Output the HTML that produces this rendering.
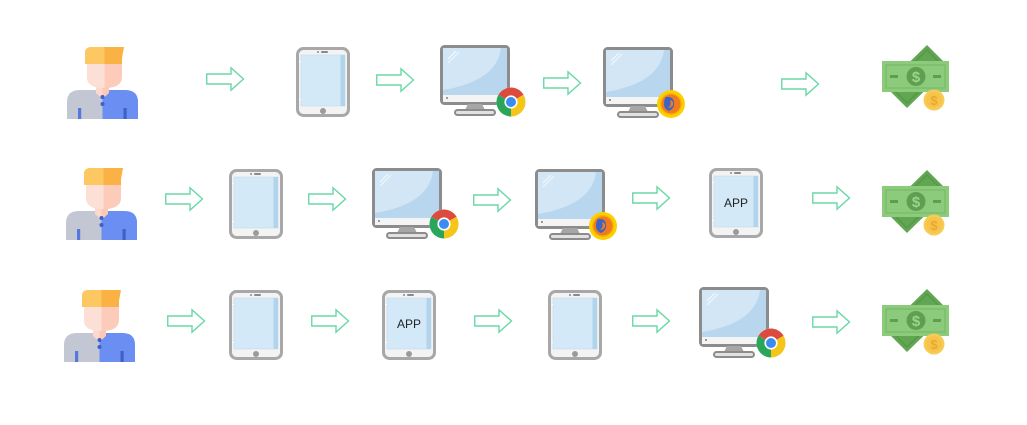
<!DOCTYPE html>
<html><head><meta charset="utf-8"><style>
html,body{margin:0;padding:0;background:#fff;}
svg{display:block;}
</style></head><body>
<svg width="1027" height="425" viewBox="0 0 1027 425" xmlns="http://www.w3.org/2000/svg">
<defs>
  <g id="arrow">
    <polygon points="0.75,7 25,7 25,0.8 37.5,12 25,23.2 25,17 0.75,17" fill="#fff" stroke="#6ad8a6" stroke-width="1.4" stroke-linejoin="miter"/>
  </g>
  <g id="person">
    <path d="M0,72 L0,55 Q0,43 13,43 L58,43 Q71,43 71,55 L71,72 Z" fill="#c3c6d3"/>
    <path d="M35.5,43 L58,43 Q71,43 71,55 L71,72 L35.5,72 Z" fill="#6a8ef1"/>
    <path d="M29,36 L42,36 L42,46 L35.5,52 L29,46 Z" fill="#fbc9b6"/>
    <path d="M29,36 L35.5,36 L35.5,52 L29,46 Z" fill="#fcd9cc"/>
    <path d="M20,12 L55,12 L55,30 Q55,41 37.5,41 Q20,41 20,30 Z" fill="#fccbb9"/>
    <path d="M20,12 L37.5,12 L37.5,41 Q20,41 20,30 Z" fill="#fde0d5"/>
    <path d="M18,17 L18,6 Q18,0 25,0 L57,0 L55,11 L55,17 Z" fill="#fbb244"/>
    <path d="M18,17 L18,6 Q18,0 25,0 L37.5,0 L37.5,17 Z" fill="#fdc762"/>
    <circle cx="35.5" cy="50" r="2" fill="#3f60c8"/>
    <circle cx="35.5" cy="57" r="2" fill="#3f60c8"/>
    <rect x="11" y="61" width="3.2" height="11" fill="#5478de"/>
    <rect x="56.5" y="61" width="3.2" height="11" fill="#3f60c8"/>
  </g>
  <g id="tablet">
    <rect x="1.5" y="1.5" width="51" height="67" rx="6" fill="#f3f3f3" stroke="#a8a8a8" stroke-width="3"/>
    <rect x="5" y="8" width="44" height="51" fill="#d3e9f8" stroke="#c4dbeb" stroke-width="0.6"/>
    <rect x="44.5" y="8" width="4.5" height="51" fill="#b2d3ec"/>
    <circle cx="22" cy="5" r="1" fill="#8a8a8a"/>
    <rect x="25" y="4" width="7" height="2" rx="1" fill="#8a8a8a"/>
    <circle cx="27" cy="64" r="3" fill="#9b9b9b"/>
    <rect x="3" y="14" width="2" height="1" fill="#fff"/>
    <rect x="3" y="52" width="2" height="1" fill="#fff"/>
  </g>
  <g id="monitor">
    <rect x="1.5" y="1.5" width="67" height="57" rx="3" fill="#f0f0f0" stroke="#8c8c8c" stroke-width="3"/>
    <rect x="3" y="3" width="64" height="47" fill="#b8d7ee"/>
    <path d="M3,3 L61,3 Q57,36 3,45 Z" fill="#d2e6f5"/>
    <line x1="8" y1="14" x2="16" y2="6" stroke="#eef6fc" stroke-width="1.5"/>
    <line x1="8" y1="18" x2="19" y2="7" stroke="#eef6fc" stroke-width="1.2"/>
    <rect x="3" y="50" width="64" height="7" fill="#f4f4f4"/>
    <rect x="6" y="52" width="2" height="2" fill="#9a9a9a"/>
    <polygon points="28,59 42,59 45,65 25,65" fill="#a6a6a6"/>
    <rect x="15" y="65" width="40" height="5" rx="2.5" fill="#e2e2e2" stroke="#8c8c8c" stroke-width="2"/>
  </g>
  <g id="chrome">
    <circle cx="0" cy="0" r="14.5" fill="#fff"/>
    <path d="M0,0 L-12.56,-7.25 A14.5,14.5 0 0,1 12.56,-7.25 Z" fill="#dd4b3e"/>
    <path d="M0,0 L12.56,-7.25 A14.5,14.5 0 0,1 0,14.5 Z" fill="#f5c518"/>
    <path d="M0,0 L0,14.5 A14.5,14.5 0 0,1 -12.56,-7.25 Z" fill="#2aa65a"/>
    <circle cx="0" cy="0" r="6.6" fill="#fff"/>
    <circle cx="0" cy="0" r="5" fill="#3b8cf0"/>
  </g>
  <g id="firefox">
    <circle cx="0" cy="0" r="14" fill="#fcd000"/>
    <circle cx="0" cy="0" r="11" fill="#f6b400"/>
    <circle cx="0" cy="0" r="9.5" fill="#ef7a20"/>
    <path d="M-5,-7 Q2,-8 3,-2 Q4,4 -2,7 Q-7,5 -7,0 Q-7,-5 -5,-7 Z" fill="#3d64c4"/>
    <path d="M-1,-4 Q3,-3 2,1 Q0,4 -3,4 Q1,1 -1,-4 Z" fill="#ef7a20"/>
  </g>
  <g id="money">
    <polygon points="45,0 67,22 25,63 3,41" fill="#62a552"/>
    <polygon points="45,5 62,22 25,58 8,41" fill="none" stroke="#539a45" stroke-width="1.5"/>
    <rect x="0" y="16" width="67" height="31" fill="#8ccb7b"/>
    <rect x="4" y="20" width="59" height="23" fill="none" stroke="#79bb69" stroke-width="1.2"/>
    <rect x="8" y="30" width="8" height="3" fill="#5d9e4f"/>
    <rect x="51" y="30" width="8" height="3" fill="#5d9e4f"/>
    <circle cx="34" cy="31.5" r="9.5" fill="#5f9f51"/>
    <text x="34" y="37" text-anchor="middle" font-family="Liberation Sans, sans-serif" font-size="15" font-weight="bold" fill="#9bd48b">$</text>
    <circle cx="52" cy="55" r="10.5" fill="#f8cb55"/>
    <circle cx="52" cy="55" r="8" fill="#f6c44a"/>
    <text x="52" y="60" text-anchor="middle" font-family="Liberation Sans, sans-serif" font-size="13" font-weight="bold" fill="#e9a82e">$</text>
  </g>
</defs>

<!-- Row 1 -->
<use href="#person" x="67" y="47"/>
<use href="#arrow" x="206" y="67"/>
<use href="#tablet" x="296" y="47"/>
<use href="#arrow" x="376" y="68"/>
<use href="#monitor" x="440" y="45"/>
<use href="#chrome" x="511" y="102"/>
<use href="#arrow" x="543" y="71"/>
<use href="#monitor" x="603" y="47"/>
<use href="#firefox" x="671" y="104"/>
<use href="#arrow" x="781" y="72"/>
<use href="#money" x="882" y="45"/>

<!-- Row 2 -->
<use href="#person" x="66" y="168"/>
<use href="#arrow" x="165" y="187"/>
<use href="#tablet" x="229" y="169"/>
<use href="#arrow" x="308" y="187"/>
<use href="#monitor" x="372" y="168"/>
<use href="#chrome" x="444" y="224"/>
<use href="#arrow" x="473" y="188"/>
<use href="#monitor" x="535" y="169"/>
<use href="#firefox" x="603" y="226"/>
<use href="#arrow" x="632" y="186"/>
<use href="#tablet" x="709" y="168"/>
<text x="736" y="207" text-anchor="middle" font-family="Liberation Sans, sans-serif" font-size="12" fill="#222">APP</text>
<use href="#arrow" x="812" y="186"/>
<use href="#money" x="882" y="170"/>

<!-- Row 3 -->
<use href="#person" x="64" y="290"/>
<use href="#arrow" x="167" y="309"/>
<use href="#tablet" x="229" y="290"/>
<use href="#arrow" x="311" y="309"/>
<use href="#tablet" x="382" y="290"/>
<text x="409" y="328" text-anchor="middle" font-family="Liberation Sans, sans-serif" font-size="12" fill="#222">APP</text>
<use href="#arrow" x="474" y="309"/>
<use href="#tablet" x="548" y="290"/>
<use href="#arrow" x="632" y="309"/>
<use href="#monitor" x="699" y="287"/>
<use href="#chrome" x="771" y="343"/>
<use href="#arrow" x="812" y="310"/>
<use href="#money" x="882" y="289"/>
</svg>
</body></html>
